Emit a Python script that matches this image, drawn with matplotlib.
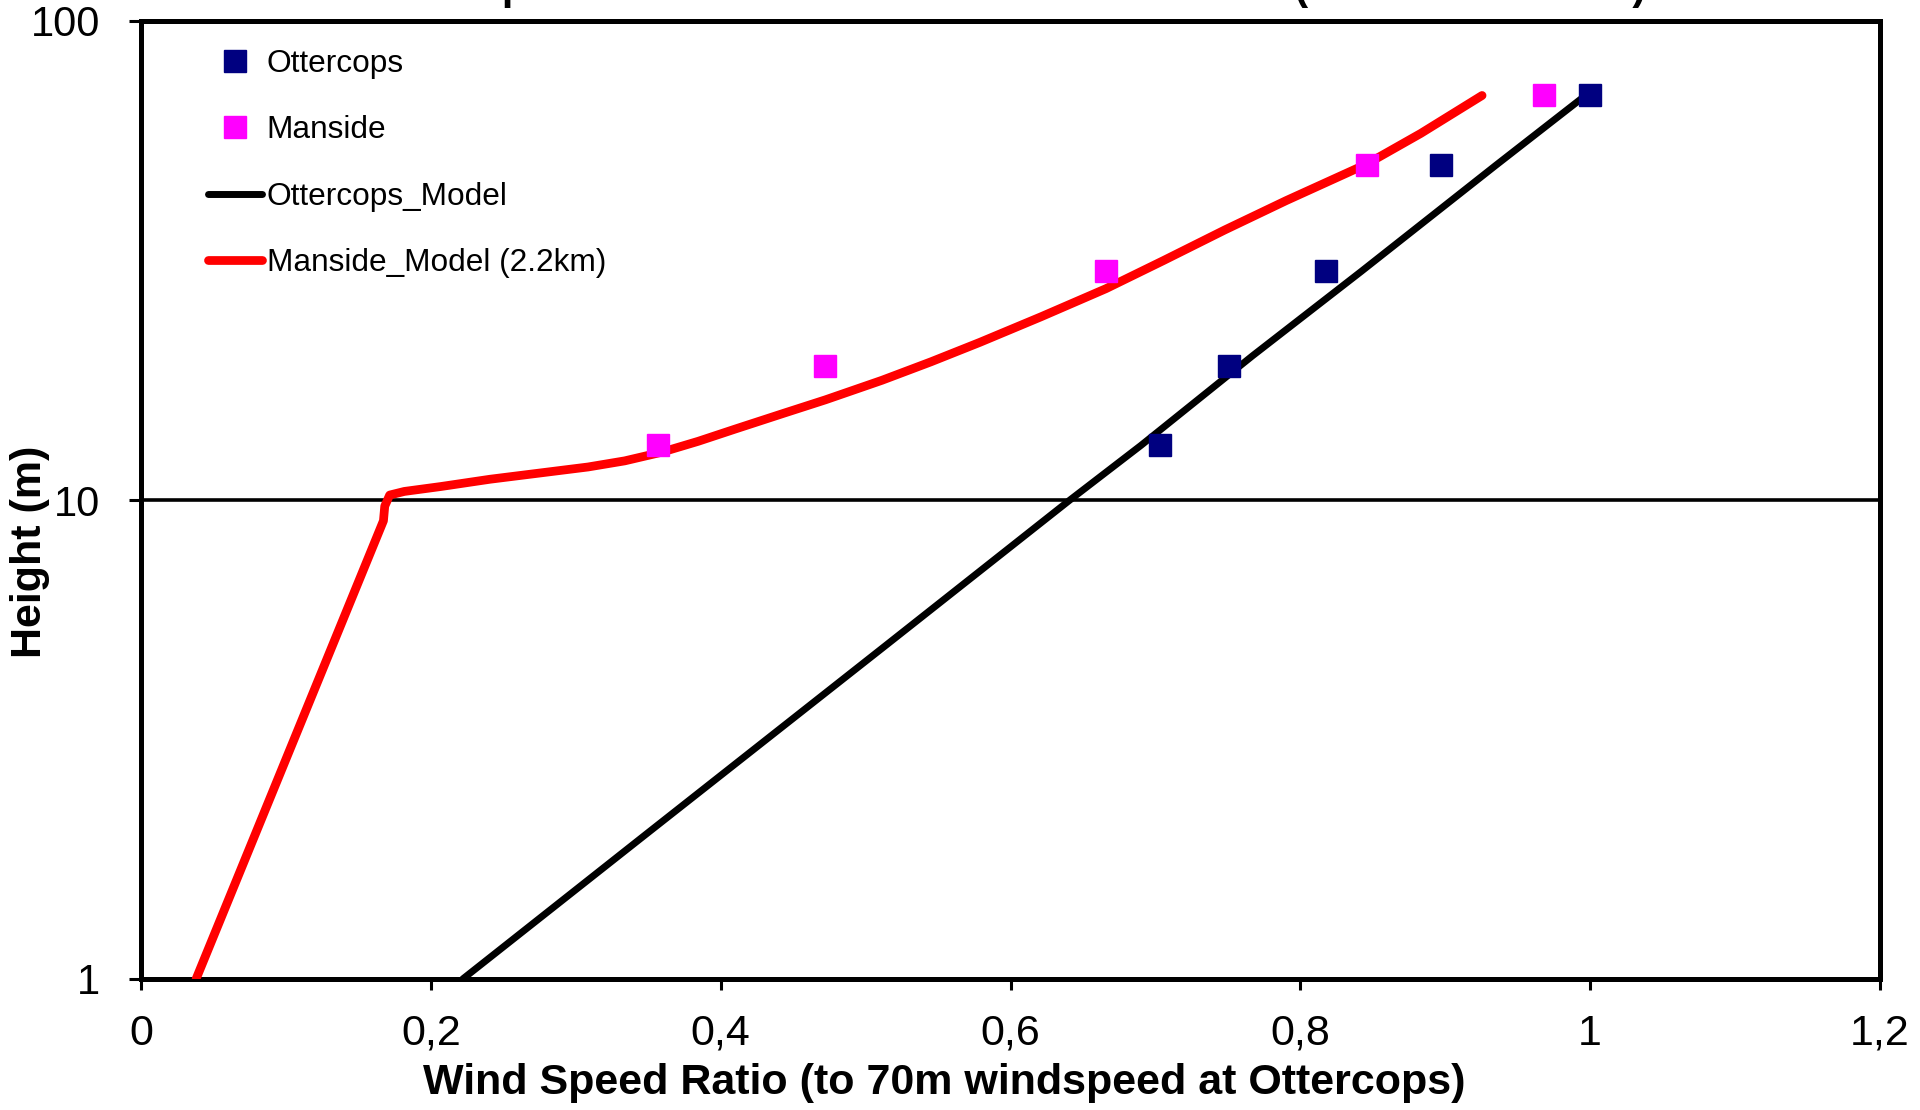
"""Wind speed ratio vs height: Ottercops / Manside."""

import matplotlib

matplotlib.use("Agg")
from matplotlib import pyplot as plt
from matplotlib.ticker import FixedLocator, NullLocator

plt.rcParams["font.family"] = ["Liberation Sans", "DejaVu Sans"]

# measured points
ottercops_ratio = [0.703, 0.751, 0.818, 0.897, 1.0]
ottercops_height = [13, 19, 30, 50, 70]
manside_ratio = [0.357, 0.472, 0.666, 0.846, 0.968]
manside_height = [13, 19, 30, 50, 70]

# model profiles
ottercops_model_ratio = [0.222, 0.348, 0.515, 0.641, 0.690, 0.767, 0.842, 0.935, 0.997]
ottercops_model_height = [1, 2, 5, 10, 13, 20, 30, 50, 70]
manside_model_ratio = [0.038, 0.1673, 0.1682, 0.1716, 0.1817, 0.2070, 0.2409, 0.2747,
                       0.3085, 0.3338, 0.3592, 0.3845, 0.4099, 0.4437, 0.4724, 0.5113,
                       0.5451, 0.5789, 0.6211, 0.6659, 0.7056, 0.7479, 0.7902, 0.8459,
                       0.8831, 0.9254]
manside_model_height = [1, 9.05, 9.71, 10.24, 10.42, 10.67, 11.05, 11.38,
                        11.72, 12.07, 12.58, 13.26, 14.06, 15.18, 16.19, 17.78,
                        19.43, 21.34, 24.13, 27.62, 31.62, 36.63, 42.17, 50.3,
                        58.25, 69.9]

x_ticks = [0, 0.2, 0.4, 0.6, 0.8, 1.0, 1.2]
x_tick_labels = ["0", "0,2", "0,4", "0,6", "0,8", "1", "1,2"]
y_ticks = [1, 10, 100]
y_tick_labels = ["1", "10", "100"]

fig = plt.figure(figsize=(19.2, 11.1), dpi=100)
ax = fig.add_axes([141 / 1920, 1 - 979 / 1110, 1739 / 1920, 958 / 1110])

(l_om,) = ax.plot(ottercops_model_ratio, ottercops_model_height, color="black",
                  lw=5.0, solid_capstyle="round", zorder=3)
(l_mm,) = ax.plot(manside_model_ratio, manside_model_height, color="red",
                  lw=6.3, solid_capstyle="round", solid_joinstyle="round", zorder=3)
(p_o,) = ax.plot(ottercops_ratio, ottercops_height, ls="none", marker="s",
                 ms=15.5, color="#000080", zorder=4)
(p_m,) = ax.plot(manside_ratio, manside_height, ls="none", marker="s",
                 ms=15.5, color="#FF00FF", zorder=4)

ax.set_yscale("log")
ax.set_xlim(0, 1.2)
ax.set_ylim(1, 100)
ax.xaxis.set_major_locator(FixedLocator(x_ticks))
ax.set_xticklabels(x_tick_labels)
ax.yaxis.set_major_locator(FixedLocator(y_ticks))
ax.yaxis.set_minor_locator(NullLocator())
ax.set_yticklabels(y_tick_labels)

ax.tick_params(axis="x", length=8, width=2.2, pad=17, labelsize=31)
ax.tick_params(axis="y", length=9, width=2.2, pad=20.5, labelsize=30)
for s in ax.spines.values():
    s.set_linewidth(3.6)
ax.yaxis.grid(True, color="black", lw=2.6)
ax.set_axisbelow(True)

ax.set_xlabel("Wind Speed Ratio (to 70m windspeed at Ottercops)",
              fontsize=31, fontweight="bold")
ax.xaxis.set_label_coords(0.462, -0.088)
ax.set_ylabel("Height (m)", fontsize=31, fontweight="bold")
ax.yaxis.set_label_coords(-0.0525, 0.446)

leg = ax.legend([p_o, p_m, l_om, l_mm],
                ["Ottercops", "Manside", "Ottercops_Model", "Manside_Model (2.2km)"],
                loc="upper left", bbox_to_anchor=(0.0385, 0.971), frameon=False,
                fontsize=22.8, handlelength=1.7, handletextpad=0.15,
                labelspacing=1.15, borderpad=0, borderaxespad=0, numpoints=1)

# title sits mostly above the top edge of the image, as in the source
fig.text(1646 / 1920, 1 + 1 / 1110, "Wind Speed Measurements and Model Results (Northumberland)",
         ha="right", va="baseline", fontsize=30, fontweight="bold")

fig.savefig("out.png", dpi=100)
